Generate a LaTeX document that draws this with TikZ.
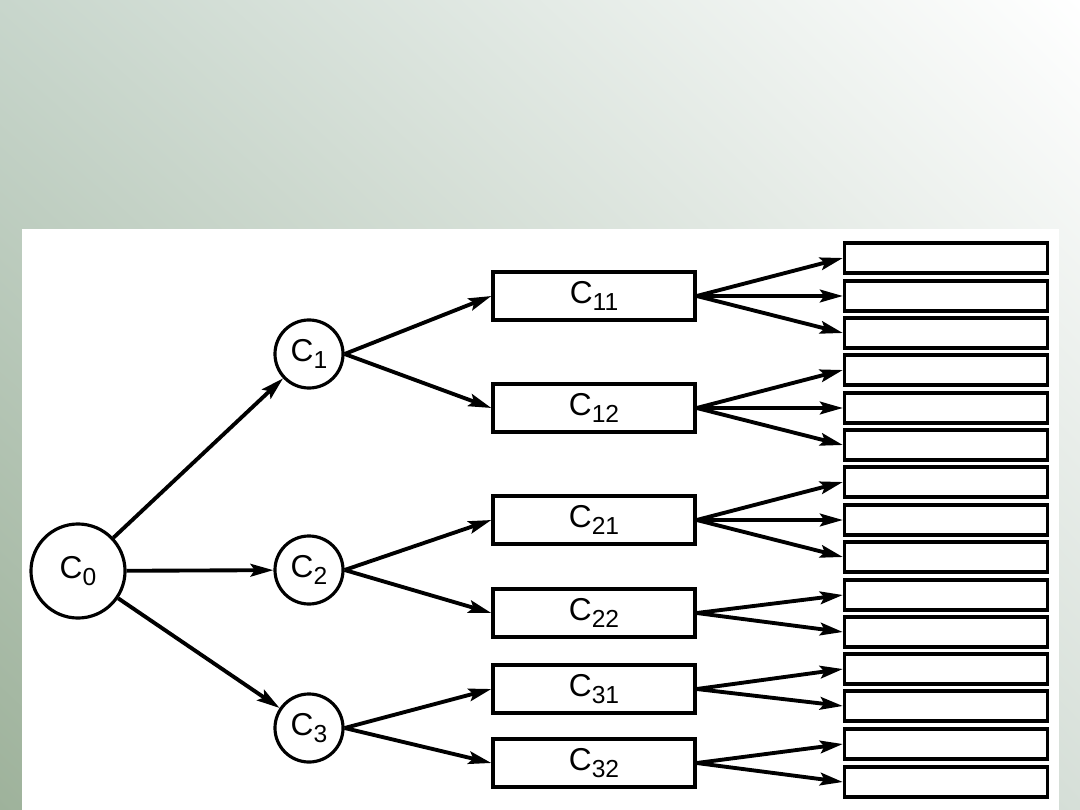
\documentclass[tikz,border=0pt]{standalone}
\usepackage{fontspec}
\setmainfont{Liberation Sans}
\usetikzlibrary{arrows.meta,shadings}
\definecolor{bgll}{RGB}{158,178,155}
\definecolor{bgul}{RGB}{200,214,204}
\definecolor{bglr}{RGB}{214,223,216}
\newcommand\csub[1]{C\raisebox{-0.45ex}{\fontsize{7}{7}\selectfont#1}}

\begin{document}
\begin{tikzpicture}[x=0.01cm,y=-0.01cm,font=\fontsize{9}{10}\selectfont,
  cn/.style={draw,circle,line width=0.9pt,inner sep=0pt,minimum size=0.68cm},
  bx/.style={draw,line width=0.9pt,minimum width=2.02cm,minimum height=0.48cm,inner sep=0pt},
  lf/.style={draw,line width=0.9pt,minimum width=2.03cm,minimum height=0.30cm,inner sep=0pt},
  arr/.style={-{Stealth[length=6.5pt,width=3.6pt,inset=1.2pt]},line width=1.1pt}]
  \useasboundingbox (0,0) rectangle (1080,810);
  \shade[lower left=bgll,upper left=bgul,lower right=bglr,upper right=white] (0,810) rectangle (1080,0);
  \fill[white] (22,229) rectangle (1059,810);
  % circles
  \node[cn,minimum size=0.94cm](c0) at (78,571){\csub{0}};
  \node[cn](c1) at (309,354){\csub{1}};
  \node[cn](c2) at (309,570){\csub{2}};
  \node[cn](c3) at (309,728){\csub{3}};
  % middle boxes
  \node[bx](c11) at (594,296){\csub{11}};
  \node[bx](c12) at (594,408){\csub{12}};
  \node[bx](c21) at (594,520){\csub{21}};
  \node[bx](c22) at (594,613){\csub{22}};
  \node[bx](c31) at (594,689){\csub{31}};
  \node[bx](c32) at (594,763){\csub{32}};
  % empty boxes on the right
  \node[lf](r1) at (946,258){}; \node[lf](r2) at (946,296){}; \node[lf](r3) at (946,333){};
  \node[lf](r4) at (946,370){}; \node[lf](r5) at (946,408){}; \node[lf](r6) at (946,445){};
  \node[lf](r7) at (946,482){}; \node[lf](r8) at (946,520){}; \node[lf](r9) at (946,557){};
  \node[lf](r10) at (946,595){}; \node[lf](r11) at (946,632){};
  \node[lf](r12) at (946,669){}; \node[lf](r13) at (946,706){};
  \node[lf](r14) at (946,744){}; \node[lf](r15) at (946,782){};
  \draw[arr](c0)--(c1);\draw[arr](c0)--(c2);\draw[arr](c0)--(c3);
  \draw[arr](c1.east)--(c11.west);\draw[arr](c1.east)--(c12.west);
  \draw[arr](c2.east)--(c21.west);\draw[arr](c2.east)--(c22.west);
  \draw[arr](c3.east)--(c31.west);\draw[arr](c3.east)--(c32.west);
  \draw[arr](c11.east)--(r1.west);\draw[arr](c11.east)--(r2.west);\draw[arr](c11.east)--(r3.west);
  \draw[arr](c12.east)--(r4.west);\draw[arr](c12.east)--(r5.west);\draw[arr](c12.east)--(r6.west);
  \draw[arr](c21.east)--(r7.west);\draw[arr](c21.east)--(r8.west);\draw[arr](c21.east)--(r9.west);
  \draw[arr](c22.east)--(r10.west);\draw[arr](c22.east)--(r11.west);
  \draw[arr](c31.east)--(r12.west);\draw[arr](c31.east)--(r13.west);
  \draw[arr](c32.east)--(r14.west);\draw[arr](c32.east)--(r15.west);
\end{tikzpicture}
\end{document}
